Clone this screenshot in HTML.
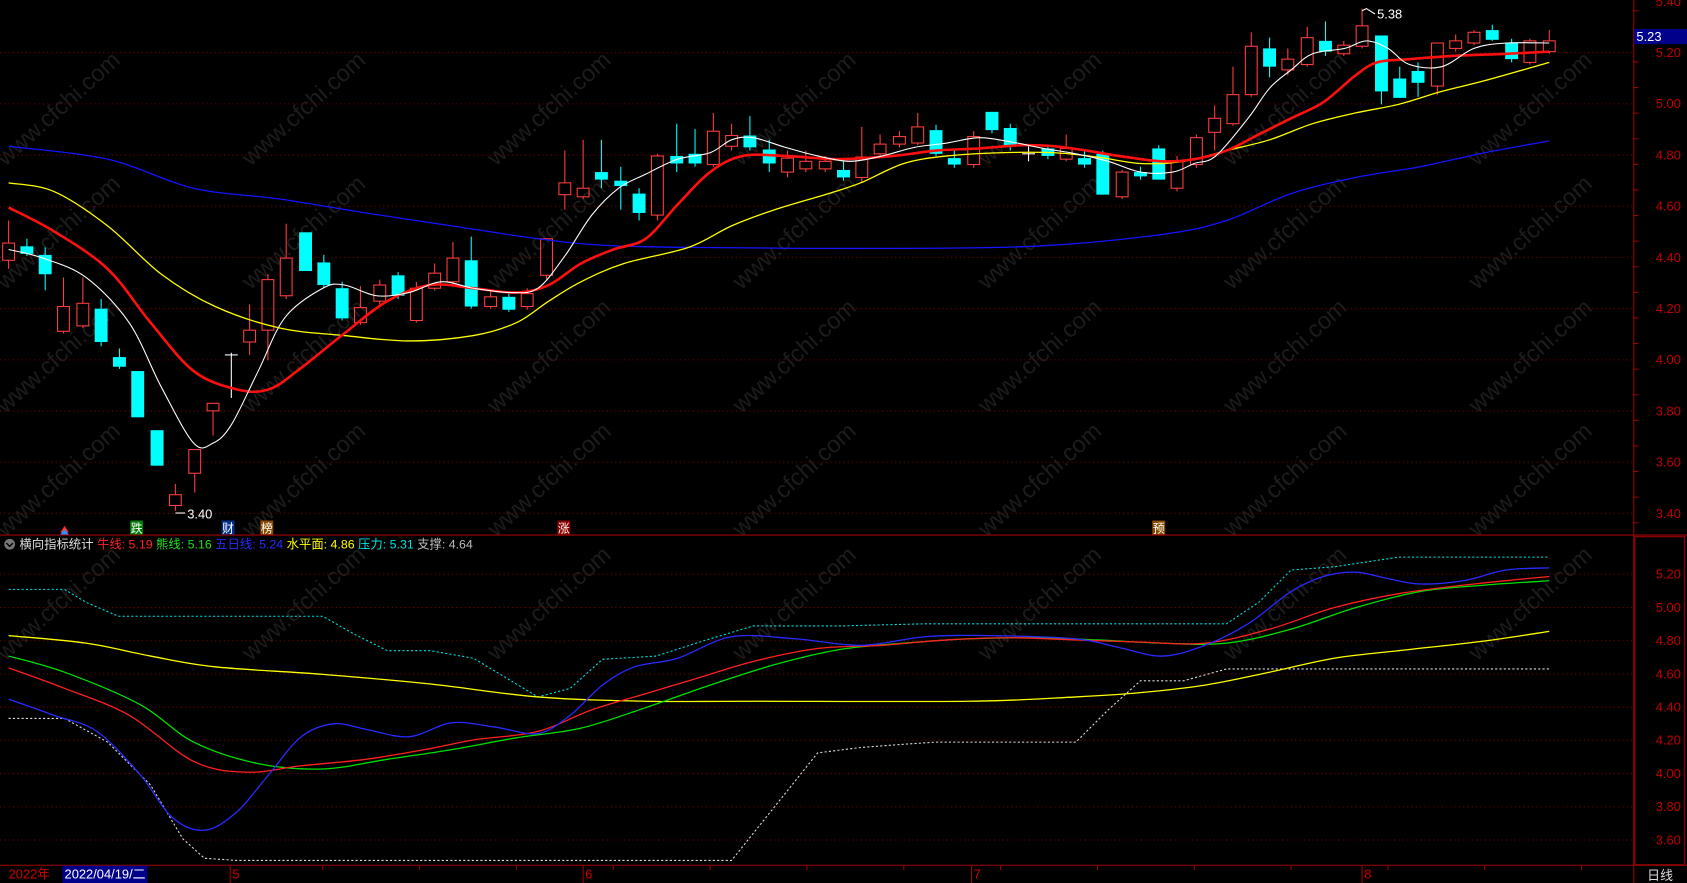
<!DOCTYPE html>
<html><head><meta charset="utf-8">
<style>
html,body{margin:0;padding:0;background:#000;width:1687px;height:883px;overflow:hidden}
svg{display:block}
text{font-family:"Liberation Sans","Noto Sans CJK SC",sans-serif}
</style></head><body>
<svg id="s" width="1687" height="883" viewBox="0 0 1568 821" preserveAspectRatio="none" xmlns="http://www.w3.org/2000/svg">
<rect width="1568" height="821" fill="#000"/>
<g id="g"></g>
</svg>
<script>
const NS="http://www.w3.org/2000/svg",G=document.getElementById('g');
function el(t,a,txt){const e=document.createElementNS(NS,t);for(const k in a)e.setAttribute(k,a[k]);if(txt!==undefined)e.textContent=txt;G.appendChild(e);return e;}
const up=p=>49+(5.20-p)*238, lo=p=>534+(5.20-p)*154.4;
for(let r=0;r<5;r++){for(let k=0;k<7;k++){const x=50+228*k, y=100+115*r; 
 el('text',{x:0,y:0,fill:'#1c1c1c','font-size':22,transform:`translate(${x-45},${y+55}) rotate(-42)`},'www.cfchi.com');}}
for(let p=3.4;p<=5.41;p+=0.2){const y=up(p);if(p<5.39)el('line',{x1:0,x2:1518,y1:y,y2:y,stroke:'#7a0000','stroke-dasharray':'1,3'});el('text',{x:1539,y:y+4,fill:'#c00000','font-size':12},p.toFixed(2));}
for(let p=3.6;p<=5.21;p+=0.2){const y=lo(p);el('line',{x1:0,x2:1518,y1:y,y2:y,stroke:'#7a0000','stroke-dasharray':'1,3'});el('text',{x:1539,y:y+4,fill:'#c00000','font-size':12},p.toFixed(2));}
el('line',{x1:1518.5,x2:1518.5,y1:0,y2:821,stroke:'#a00000'});
el('line',{x1:0,x2:1568,y1:497.5,y2:497.5,stroke:'#a00000'});
el('line',{x1:0,x2:1568,y1:804.5,y2:804.5,stroke:'#a00000'});
el('rect',{x:1519.5,y:499,width:46,height:305,fill:'none',stroke:'#a00000'});
for(let y=10;y<497;y+=23.8)el('line',{x1:1518,x2:1523,y1:y,y2:y,stroke:'#a00000'});
el('rect',{x:1519,y:27,width:49,height:14,fill:'#00008b'});
el('text',{x:1521,y:38,fill:'#fff','font-size':12},'5.23');
const C=[[8,226,242,205,250,'u'],[25,229,236,222,238,'d'],[42,237,255,230,270,'d'],[59,285,308,258,310,'u'],[77,282,303,258,305,'u'],[94,287,318,278,322,'d'],[111,332,341,324,343,'d'],[128,345,388,345,388,'d'],[146,400,433,400,433,'d'],[163,460,470,450,475,'u'],[181,418,440,418,458,'u'],[198,375,382,375,405,'u'],[215,330,330,328,370,'x'],[232,307,318,283,330,'u'],[249,260,307,255,335,'u'],[266,240,275,208,278,'u'],[284,216,252,216,252,'d'],[301,244,265,237,268,'d'],[318,268,296,262,298,'d'],[335,286,300,266,302,'u'],[353,265,280,260,285,'u'],[370,256,275,253,278,'d'],[387,268,298,262,300,'u'],[404,254,268,245,270,'u'],[421,240,262,225,265,'u'],[438,242,285,220,287,'d'],[456,276,285,270,287,'u'],[473,276,288,272,290,'d'],[490,273,285,268,288,'u'],[508,222,256,222,260,'u'],[525,170,181,140,195,'u'],[542,175,183,130,185,'u'],[559,160,167,130,175,'d'],[577,168,173,155,195,'d'],[594,180,198,175,205,'d'],[611,145,200,143,205,'u'],[629,145,152,115,160,'d'],[646,143,152,120,155,'d'],[663,122,153,105,155,'u'],[680,126,136,115,140,'u'],[697,126,137,108,140,'d'],[715,139,152,130,160,'d'],[732,147,160,140,165,'u'],[749,150,157,140,160,'u'],[767,150,157,145,160,'u'],[784,158,165,150,168,'d'],[801,146,165,118,170,'u'],[818,134,143,125,147,'u'],[836,127,134,122,137,'u'],[853,118,133,105,135,'u'],[870,121,143,116,145,'d'],[887,147,153,140,156,'d'],[905,127,153,122,156,'u'],[922,104,121,104,124,'d'],[939,119,136,115,140,'d'],[956,143,143,135,150,'x'],[974,138,145,135,148,'d'],[991,138,148,125,150,'u'],[1008,147,153,140,156,'d'],[1025,143,181,140,181,'d'],[1043,160,183,158,185,'u'],[1060,160,164,155,167,'d'],[1077,138,167,135,167,'d'],[1094,150,175,145,178,'u'],[1112,128,153,125,156,'u'],[1129,110,123,98,140,'u'],[1146,88,115,62,117,'u'],[1163,43,88,30,90,'u'],[1180,45,62,35,72,'d'],[1197,55,65,45,70,'u'],[1215,35,60,25,62,'u'],[1232,38,48,20,52,'d'],[1249,42,50,38,52,'u'],[1266,24,43,8,45,'u'],[1284,33,85,33,97,'d'],[1301,73,91,62,91,'d'],[1318,66,77,58,90,'d'],[1336,40,80,40,88,'u'],[1353,38,45,32,48,'u'],[1370,30,40,28,42,'u'],[1387,28,37,23,38,'d'],[1405,40,55,36,58,'d'],[1422,38,58,36,60,'u'],[1440,38,48,28,50,'u']];
for(const [x,t,b,h,l,ty] of C){
 const col=ty=='u'?'#ff3d3d':ty=='d'?'#00ffff':'#fff';
 if(ty=='u'){el('line',{x1:x,x2:x,y1:h,y2:t,stroke:col});el('line',{x1:x,x2:x,y1:b,y2:l,stroke:col});el('rect',{x:x-5.5,y:t,width:11,height:Math.max(b-t,1),fill:'none',stroke:col});}
 else if(ty=='d'){el('line',{x1:x,x2:x,y1:h,y2:l,stroke:col});el('rect',{x:x-6,y:t,width:12,height:Math.max(b-t,1),fill:col});}
 else{el('line',{x1:x,x2:x,y1:h,y2:l,stroke:col});el('line',{x1:x-6,x2:x+6,y1:t,y2:t,stroke:col});}
}
function pl(pts,col,w,dash){
 if(dash){el('polyline',{points:pts,fill:'none',stroke:col,'stroke-width':w,'stroke-dasharray':dash});return;}
 const P=pts.split(' ').map(s=>s.split(',').map(Number));
 let d=`M${P[0][0]},${P[0][1]}`;
 for(let i=0;i<P.length-1;i++){const p0=P[i-1]||P[i],p1=P[i],p2=P[i+1],p3=P[i+2]||p2;
  const c1=[p1[0]+(p2[0]-p0[0])/6,p1[1]+(p2[1]-p0[1])/6],c2=[p2[0]-(p3[0]-p1[0])/6,p2[1]-(p3[1]-p1[1])/6];
  d+=` C${c1[0]},${c1[1]} ${c2[0]},${c2[1]} ${p2[0]},${p2[1]}`;}
 el('path',{d:d,fill:'none',stroke:col,'stroke-width':w,'stroke-linejoin':'round'});}
pl("8,136 100,148 180,175 260,185 340,198 420,210 500,222 560,228 640,230 800,231 960,229 1080,218 1140,205 1200,180 1260,165 1320,155 1380,142 1440,131",'#1414ff',1.2);
pl("8,170 50,178 100,210 150,255 200,285 260,305 320,312 380,317 440,312 480,300 510,280 540,262 580,245 640,230 680,210 720,195 770,180 800,170 840,152 880,145 930,142 980,142 1020,146 1060,152 1100,150 1140,140 1180,130 1220,115 1260,105 1300,97 1340,85 1380,75 1440,58",'#ffff00',1.2);
pl("8,193 50,215 100,250 140,300 180,345 220,362 250,362 280,342 320,310 360,280 400,265 440,268 480,272 510,265 540,245 570,232 600,222 630,190 660,160 690,145 730,145 780,148 830,145 870,140 910,138 950,135 980,136 1010,140 1040,145 1080,150 1110,148 1140,140 1170,125 1200,110 1230,95 1260,70 1280,58 1310,55 1350,52 1400,50 1440,48",'#ff1010',2.4);
pl("8,232 40,240 80,258 120,300 150,360 180,412 198,412 215,395 240,345 265,295 300,268 320,265 350,275 380,272 410,262 440,268 475,272 500,268 525,238 550,200 575,175 600,162 630,148 660,142 680,130 700,128 730,137 760,145 790,150 820,145 850,137 880,133 910,128 940,132 970,138 1000,143 1030,150 1060,160 1090,160 1110,152 1130,145 1160,110 1180,82 1200,65 1220,50 1250,45 1270,38 1290,45 1310,60 1340,62 1370,45 1400,40 1440,40",'#ffffff',1);
el('text',{x:1280,y:17,fill:'#fff','font-size':12},'5.38');
el('polyline',{points:"1278,13 1270,8 1266,10",fill:'none',stroke:'#fff'});
el('text',{x:174,y:482,fill:'#fff','font-size':12},'3.40');
el('line',{x1:163,x2:172,y1:477,y2:477,stroke:'#fff'});
function tag(x,t,bg){el('rect',{x:x,y:484,width:12,height:13,fill:bg});el('text',{x:x+0.5,y:495,fill:'#fff','font-size':11},t);}
tag(121,'跌','#007a00');tag(206,'财','#00308a');tag(242,'榜','#8a4a00');tag(518,'涨','#8a0000');tag(1071,'预','#8a4a00');
el('polygon',{points:"56,495 60,489 64,495",fill:'#ff3030'});el('polygon',{points:"56,497 60,492 64,497",fill:'#3090ff'});
el('circle',{cx:9,cy:506,r:5,fill:'#777'});
el('polyline',{points:"6,505 9,508 12,505",fill:'none',stroke:'#000','stroke-width':1.3});
const T=[['横向指标统计 ','#ddd'],['牛线: 5.19 ','#ff2020'],['熊线: 5.16 ','#20e020'],['五日线: 5.24 ','#2a2aff'],['水平面: 4.86 ','#ffff00'],['压力: 5.31 ','#00e0e0'],['支撑: 4.64','#bbb']];
let tx=el('text',{x:18,y:510,'font-size':11.5});
for(const [s,c] of T){const sp=document.createElementNS(NS,'tspan');sp.setAttribute('fill',c);sp.textContent=s;tx.appendChild(sp);}
pl("8,548 60,548 80,560 110,573 300,573 330,590 360,605 400,605 440,612 470,630 500,648 530,640 560,613 610,610 650,597 700,582 780,582 860,580 1140,580 1170,560 1200,530 1240,527 1300,518 1440,518",'#00e0e0',1,'2,2');
pl("8,668 60,668 100,690 140,730 170,780 190,798 220,800 680,800 720,750 760,700 800,695 840,692 870,690 1000,690 1030,660 1060,633 1100,633 1140,622 1440,622",'#ddd',1,'2,2');
pl("8,591 80,598 140,610 200,620 300,627 400,636 500,648 600,652 700,652 900,652 1000,648 1060,644 1120,637 1180,625 1240,612 1300,605 1380,596 1440,587",'#ffff00',1.2);
pl("8,610 60,625 130,655 180,690 240,710 300,715 360,706 420,697 480,686 540,677 600,658 660,637 720,618 780,604 840,598 900,594 960,593 1020,595 1080,598 1140,598 1200,585 1260,565 1320,550 1380,544 1440,540",'#00e000',1.2);
pl("8,621 60,640 120,665 180,708 230,718 280,712 340,706 400,696 440,688 500,680 550,660 600,645 650,630 700,615 760,603 820,600 880,595 940,593 1000,595 1060,597 1120,598 1180,585 1240,565 1300,552 1370,543 1440,536",'#ff2020',1.2);
pl("8,650 50,665 90,680 130,720 160,760 190,772 220,755 250,720 280,685 310,673 340,678 380,685 420,672 460,676 500,682 530,665 560,637 590,620 630,612 680,592 740,594 800,600 860,592 920,591 1000,594 1040,602 1080,610 1120,600 1160,580 1200,550 1230,536 1260,532 1290,538 1320,543 1360,540 1400,530 1440,528",'#2a2aff',1.2);
el('text',{x:8,y:817,fill:'#d00000','font-size':12},'2022年');
el('rect',{x:58,y:805,width:79,height:16,fill:'#00008b'});
el('text',{x:60,y:817,fill:'#fff','font-size':12},'2022/04/19/二');
for(const [x,t] of [[214,'5'],[542,'6'],[903,'7'],[1266,'8']]){el('line',{x1:x,x2:x,y1:805,y2:821,stroke:'#a00000'});el('text',{x:x+2,y:817,fill:'#d00000','font-size':12},t);}
for(let x=300;x<1518;x+=90)el('line',{x1:x,x2:x,y1:805,y2:809,stroke:'#a00000'});
el('text',{x:1531,y:818,fill:'#ddd','font-size':12},'日线');
</script>
</body></html>
